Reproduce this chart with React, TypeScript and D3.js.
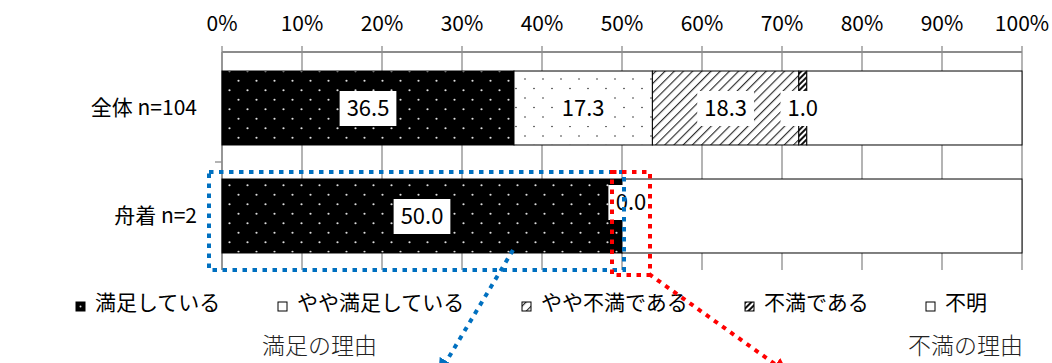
import React, { useRef, useEffect } from "react";
import * as d3 from "d3";

const categories = ["全体 n=104", "舟着 n=2"];
const seriesNames = ["満足している", "やや満足している", "やや不満である", "不満である", "不明"];
const satisfied = [36.5, 50.0];
const somewhatSatisfied = [17.3, 0.0];
const somewhatDissatisfied = [18.3, 0.0];
const dissatisfied = [1.0, 0.0];
const unknown = [26.9, 50.0];
const xTicks = [0, 10, 20, 30, 40, 50, 60, 70, 80, 90, 100];

const W = 1052;
const H = 363;
const JP = "'Noto Sans CJK JP', 'Noto Sans', sans-serif";

function App() {
  const ref = useRef<SVGSVGElement>(null);

  useEffect(() => {
    const svg = d3.select(ref.current);
    svg.selectAll("*").remove();

    const x = d3.scaleLinear().domain([0, 100]).range([222, 1022]);
    const y = d3
      .scaleBand<string>()
      .domain(categories)
      .range([54, 270])
      .paddingInner(0.315)
      .paddingOuter(0.1575);

    const table = categories.map((c, i) => ({
      category: c,
      [seriesNames[0]]: satisfied[i],
      [seriesNames[1]]: somewhatSatisfied[i],
      [seriesNames[2]]: somewhatDissatisfied[i],
      [seriesNames[3]]: dissatisfied[i],
      [seriesNames[4]]: unknown[i],
    }));
    const stacked = d3.stack<any>().keys(seriesNames)(table);

    // patterns
    const defs = svg.append("defs");
    const p0 = defs
      .append("pattern")
      .attr("id", "pat0")
      .attr("patternUnits", "userSpaceOnUse")
      .attr("width", 18)
      .attr("height", 19);
    p0.append("rect").attr("width", 18).attr("height", 19).attr("fill", "#000");
    p0.append("circle").attr("cx", 4.5).attr("cy", 4.75).attr("r", 1.1).attr("fill", "#ddd");
    p0.append("circle").attr("cx", 13.5).attr("cy", 14.25).attr("r", 1.1).attr("fill", "#ddd");

    const p1 = defs
      .append("pattern")
      .attr("id", "pat1")
      .attr("patternUnits", "userSpaceOnUse")
      .attr("width", 18)
      .attr("height", 19);
    p1.append("rect").attr("width", 18).attr("height", 19).attr("fill", "#fff");
    p1.append("circle").attr("cx", 3).attr("cy", 3).attr("r", 0.8).attr("fill", "#333");
    p1.append("circle").attr("cx", 12).attr("cy", 12.5).attr("r", 0.8).attr("fill", "#333");

    const p2 = defs
      .append("pattern")
      .attr("id", "pat2")
      .attr("patternUnits", "userSpaceOnUse")
      .attr("width", 6.5)
      .attr("height", 6.5)
      .attr("patternTransform", "rotate(45)");
    p2.append("rect").attr("width", 6.5).attr("height", 6.5).attr("fill", "#fff");
    p2.append("line").attr("x1", 0.6).attr("x2", 0.6).attr("y1", 0).attr("y2", 6.5)
      .attr("stroke", "#222").attr("stroke-width", 1.1);

    const p3 = defs
      .append("pattern")
      .attr("id", "pat3")
      .attr("patternUnits", "userSpaceOnUse")
      .attr("width", 4)
      .attr("height", 4)
      .attr("patternTransform", "rotate(45)");
    p3.append("rect").attr("width", 4).attr("height", 4).attr("fill", "#fff");
    p3.append("line").attr("x1", 1).attr("x2", 1).attr("y1", 0).attr("y2", 4)
      .attr("stroke", "#111").attr("stroke-width", 2);

    const fills = ["url(#pat0)", "url(#pat1)", "url(#pat2)", "url(#pat3)", "#fff"];

    ["blueHead", "redHead"].forEach((id, i) => {
      defs
        .append("marker")
        .attr("id", id)
        .attr("markerUnits", "userSpaceOnUse")
        .attr("viewBox", "0 0 10 10")
        .attr("refX", 8)
        .attr("refY", 5)
        .attr("markerWidth", 16)
        .attr("markerHeight", 16)
        .attr("orient", "auto")
        .append("path")
        .attr("d", "M0,0 L10,5 L0,10 Z")
        .attr("fill", i === 0 ? "#0070C0" : "#FF0000");
    });

    const grid = "#8c8c8c";

    // gridlines + top ticks
    svg
      .append("g")
      .selectAll("line")
      .data(xTicks)
      .join("line")
      .attr("x1", (d) => x(d))
      .attr("x2", (d) => x(d))
      .attr("y1", 46)
      .attr("y2", 270)
      .attr("stroke", grid)
      .attr("stroke-width", 1.3);

    svg.append("line").attr("x1", 222).attr("x2", 1022).attr("y1", 52).attr("y2", 52)
      .attr("stroke", grid).attr("stroke-width", 2);
    svg.append("line").attr("x1", 222).attr("x2", 222).attr("y1", 52).attr("y2", 270)
      .attr("stroke", grid).attr("stroke-width", 1.5);
    svg.append("line").attr("x1", 215).attr("x2", 222).attr("y1", 162).attr("y2", 162)
      .attr("stroke", grid).attr("stroke-width", 1.3);

    // tick labels
    svg
      .append("g")
      .selectAll("text")
      .data(xTicks)
      .join("text")
      .attr("x", (d) => x(d))
      .attr("y", 31)
      .attr("text-anchor", "middle")
      .style("font-family", JP)
      .style("font-size", "21px")
      .text((d) => `${d}%`);

    // category labels
    svg
      .append("g")
      .selectAll("text")
      .data(categories)
      .join("text")
      .attr("x", 197)
      .attr("y", (d) => (y(d) as number) + y.bandwidth() / 2)
      .attr("dy", "0.35em")
      .attr("text-anchor", "end")
      .style("font-family", JP)
      .style("font-size", "21px")
      .text((d) => d);

    // bars
    stacked.forEach((s, si) => {
      svg
        .append("g")
        .selectAll("rect")
        .data(s)
        .join("rect")
        .attr("x", (d) => x(d[0]))
        .attr("y", (d) => y(d.data.category) as number)
        .attr("width", (d) => x(d[1]) - x(d[0]))
        .attr("height", y.bandwidth())
        .attr("fill", fills[si])
        .attr("stroke", "#000")
        .attr("stroke-width", 1)
        .attr("display", (d) => (d[1] - d[0] > 0 ? null : "none"));
    });

    // data labels (not for 不明)
    stacked.slice(0, 4).forEach((s) => {
      s.forEach((d) => {
        const v = d[1] - d[0];
        const zero = v === 0;
        const cx = x((d[0] + d[1]) / 2) + (zero ? 9 : 0);
        const cy = (y(d.data.category) as number) + y.bandwidth() / 2 - (zero ? 14 : 0);
        const g = svg.append("g");
        const rect = g.append("rect").attr("fill", "#fff");
        const t = g
          .append("text")
          .attr("x", cx)
          .attr("y", cy)
          .attr("dy", "0.36em")
          .attr("text-anchor", "middle")
          .style("font-family", JP)
          .style("font-size", "22px")
          .text(v.toFixed(1));
        const bb = (t.node() as SVGTextElement).getBBox();
        rect
          .attr("x", cx - bb.width / 2 - 7)
          .attr("y", cy - 17)
          .attr("width", bb.width + 14)
          .attr("height", 35);
      });
    });

    // legend
    let lx = 76;
    seriesNames.forEach((name, i) => {
      const g = svg.append("g");
      g.append("rect")
        .attr("x", lx)
        .attr("y", 302)
        .attr("width", 9)
        .attr("height", 9)
        .attr("fill", i === 0 ? "#000" : fills[i])
        .attr("stroke", "#000")
        .attr("stroke-width", 1);
      if (i === 0) {
        g.append("circle").attr("cx", lx + 4.5).attr("cy", 306.5).attr("r", 1).attr("fill", "#ddd");
      }
      g.append("text")
        .attr("x", lx + 19)
        .attr("y", 310)
        .style("font-family", JP)
        .style("font-size", "21px")
        .text(name);
      lx += 20 + name.length * 21 + 56;
    });

    // annotation boxes
    svg.append("rect").attr("x", 209).attr("y", 172).attr("width", 415).attr("height", 98)
      .attr("fill", "none").attr("stroke", "#0070C0").attr("stroke-width", 4)
      .attr("stroke-dasharray", "4.5 5.5");
    svg.append("rect").attr("x", 612).attr("y", 172).attr("width", 38).attr("height", 103)
      .attr("fill", "none").attr("stroke", "#FF0000").attr("stroke-width", 4)
      .attr("stroke-dasharray", "4.5 5.5");

    // arrows
    svg.append("line").attr("x1", 513).attr("y1", 250).attr("x2", 440).attr("y2", 372)
      .attr("stroke", "#0070C0").attr("stroke-width", 4).attr("stroke-dasharray", "4.5 5.5")
      .attr("marker-end", "url(#blueHead)");
    svg.append("line").attr("x1", 649).attr("y1", 274).attr("x2", 786).attr("y2", 372)
      .attr("stroke", "#FF0000").attr("stroke-width", 4).attr("stroke-dasharray", "4.5 5.5")
      .attr("marker-end", "url(#redHead)");

    // reason captions
    [["満足の理由", 262], ["不満の理由", 908]].forEach(([txt, px]) => {
      svg.append("text")
        .attr("x", px as number)
        .attr("y", 354)
        .style("font-family", JP)
        .style("font-weight", 300)
        .style("font-size", "23px")
        .attr("fill", "#222")
        .text(txt as string);
    });
  }, []);

  return (
    <svg
      ref={ref}
      width={W}
      height={H}
      style={{ position: "fixed", left: 0, top: 0, background: "#fff" }}
    />
  );
}

export default App;
